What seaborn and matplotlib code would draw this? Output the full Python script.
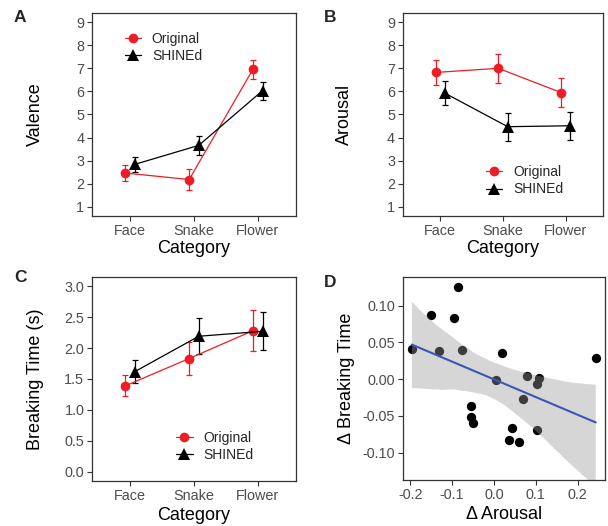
import numpy as np
import pandas as pd
import matplotlib
matplotlib.use("Agg")
import matplotlib.pyplot as plt
from matplotlib.lines import Line2D
import seaborn as sns

sns.set_theme(style="white")
plt.rcParams['font.family'] = ['Liberation Sans', 'DejaVu Sans']
plt.rcParams['axes.unicode_minus'] = False

# ---------------- data ----------------
categories = ["Face", "Snake", "Flower"]
conditions = ["Original", "SHINEd"]

valence_orig = [2.46, 2.18, 6.96]
valence_orig_err = [0.34, 0.44, 0.42]
valence_shine = [2.84, 3.66, 6.03]
valence_shine_err = [0.32, 0.42, 0.39]

arousal_orig = [6.82, 7.00, 5.95]
arousal_orig_err = [0.55, 0.64, 0.64]
arousal_shine = [5.92, 4.47, 4.51]
arousal_shine_err = [0.51, 0.61, 0.61]

bt_orig = [1.39, 1.83, 2.28]
bt_orig_err = [0.17, 0.26, 0.33]
bt_shine = [1.62, 2.19, 2.27]
bt_shine_err = [0.18, 0.29, 0.31]

d_arousal = [-0.196, -0.150, -0.132, -0.095, -0.087, -0.077, -0.054, -0.054,
             -0.049, 0.005, 0.019, 0.036, 0.043, 0.059, 0.069, 0.080, 0.102,
             0.108, 0.103, 0.243]
d_breaking = [0.041, 0.087, 0.039, 0.083, 0.126, 0.040, -0.037, -0.051,
              -0.059, -0.001, 0.036, -0.082, -0.067, -0.086, -0.027, 0.005,
              -0.007, 0.002, -0.069, 0.029]

RED = "#EE1C25"
BLACK = "#000000"
palette = {"Original": RED, "SHINEd": BLACK}
markers = {"Original": "o", "SHINEd": "^"}
msizes = {"Original": 7, "SHINEd": 8}
dodge = {"Original": -0.075, "SHINEd": 0.075}

TICK_COL = "#4D4D4D"
FRAME_COL = "#333333"
TICK_FS = 10.4
LAB_FS = 13
LEG_FS = 10

fig = plt.figure(figsize=(6.08, 5.26), dpi=100)

def style_axes(ax, ylab_x, xlab_y):
    for s in ax.spines.values():
        s.set_visible(True)
        s.set_color(FRAME_COL)
        s.set_linewidth(0.9)
    ax.tick_params(axis="both", which="both", direction="out", length=3.5,
                   width=0.8, color=FRAME_COL, labelcolor=TICK_COL,
                   labelsize=TICK_FS, pad=2, left=True, bottom=True)
    ax.grid(False)
    ax.yaxis.set_label_coords(ylab_x, 0.5)
    ax.yaxis.label.set_va("center")
    ax.xaxis.set_label_coords(0.5, xlab_y)
    ax.xaxis.label.set_va("center")

def interaction_panel(rect, orig, orig_err, shine, shine_err, ylabel,
                      ylim, yticks, yticklabels, leg_anchor, ylab_x, xlab_y):
    ax = fig.add_axes(rect)
    rows = []
    for cond, vals, errs in [("Original", orig, orig_err), ("SHINEd", shine, shine_err)]:
        for i, c in enumerate(categories):
            rows.append({"cond": cond, "cat": c, "x": i + dodge[cond],
                         "mean": vals[i], "err": errs[i]})
    df = pd.DataFrame(rows)
    for cond in conditions:
        sub = df[df.cond == cond]
        ax.errorbar(sub["x"], sub["mean"], yerr=sub["err"], fmt="none",
                    ecolor=palette[cond], elinewidth=0.9, capsize=2.5,
                    capthick=0.9, zorder=2)
        sns.lineplot(data=sub, x="x", y="mean", color=palette[cond],
                     marker=markers[cond], markersize=msizes[cond],
                     markeredgewidth=0, linewidth=0.9, legend=False, ax=ax,
                     zorder=3, sort=False)
    ax.set_xlim(-0.6, 2.6)
    ax.set_xticks(range(len(categories)))
    ax.set_xticklabels(categories)
    ax.set_ylim(*ylim)
    ax.set_yticks(yticks)
    ax.set_yticklabels(yticklabels)
    ax.set_xlabel("Category", fontsize=LAB_FS, color="black")
    ax.set_ylabel(ylabel, fontsize=LAB_FS, color="black")
    style_axes(ax, ylab_x, xlab_y)
    handles = [Line2D([], [], color=palette[c], marker=markers[c],
                      markersize=msizes[c], markeredgewidth=0, linewidth=0.9)
               for c in conditions]
    ax.legend(handles, conditions, loc="center left", bbox_to_anchor=leg_anchor,
              frameon=False, fontsize=LEG_FS, handlelength=1.2,
              handletextpad=0.76, labelspacing=0.23, borderpad=0,
              borderaxespad=0)
    return ax

top_b, top_h = 0.5894, 0.386
bot_b, bot_h = 0.0856, 0.388

interaction_panel([0.1513, top_b, 0.3355, top_h], valence_orig, valence_orig_err,
                  valence_shine, valence_shine_err, "Valence", (0.6, 9.4),
                  range(1, 10), [str(v) for v in range(1, 10)], (0.160, 0.830),
                  -0.279, -0.158)
interaction_panel([0.6623, top_b, 0.330, top_h], arousal_orig, arousal_orig_err,
                  arousal_shine, arousal_shine_err, "Arousal", (0.6, 9.4),
                  range(1, 10), [str(v) for v in range(1, 10)], (0.414, 0.173),
                  -0.288, -0.158)
bt_ticks = [0.0, 0.5, 1.0, 1.5, 2.0, 2.5, 3.0]
interaction_panel([0.1513, bot_b, 0.3355, bot_h], bt_orig, bt_orig_err,
                  bt_shine, bt_shine_err, "Breaking Time (s)", (-0.15, 3.15),
                  bt_ticks, [f"{v:.1f}" for v in bt_ticks], (0.412, 0.168),
                  -0.279, -0.167)

# ---------------- panel D ----------------
axd = fig.add_axes([0.6623, 0.0875, 0.3327, 0.386])
dfd = pd.DataFrame({"d_arousal": d_arousal, "d_breaking": d_breaking})
sns.scatterplot(data=dfd, x="d_arousal", y="d_breaking", color="black",
                s=45, linewidth=0, ax=axd, zorder=1)
sns.regplot(data=dfd, x="d_arousal", y="d_breaking", scatter=False, ci=95,
            n_boot=2000, seed=1, color="#999999",
            line_kws={"color": "#3C57B3", "linewidth": 1.5, "zorder": 3},
            ax=axd)
for coll in axd.collections[1:]:
    coll.set_facecolor("#999999")
    coll.set_edgecolor("none")
    coll.set_alpha(0.4)
    coll.set_zorder(2)
axd.set_xlim(-0.218, 0.265)
axd.set_ylim(-0.137, 0.139)
xt = [-0.2, -0.1, 0.0, 0.1, 0.2]
yt = [-0.10, -0.05, 0.0, 0.05, 0.10]
axd.set_xticks(xt)
axd.set_xticklabels([f"{v:.1f}" for v in xt])
axd.set_yticks(yt)
axd.set_yticklabels([f"{v:.2f}" for v in yt])
axd.set_xlabel("\u0394 Arousal", fontsize=LAB_FS, color="black")
axd.set_ylabel("\u0394 Breaking Time", fontsize=LAB_FS, color="black")
style_axes(axd, -0.277, -0.172)

# panel letters
for lab, x, y in [("A", 0.033, 0.966), ("B", 0.543, 0.966),
                  ("C", 0.033, 0.473), ("D", 0.543, 0.462)]:
    fig.text(x, y, lab, fontsize=12.5, fontweight="bold", ha="center", va="center")

fig.savefig("out.png", dpi=100)
